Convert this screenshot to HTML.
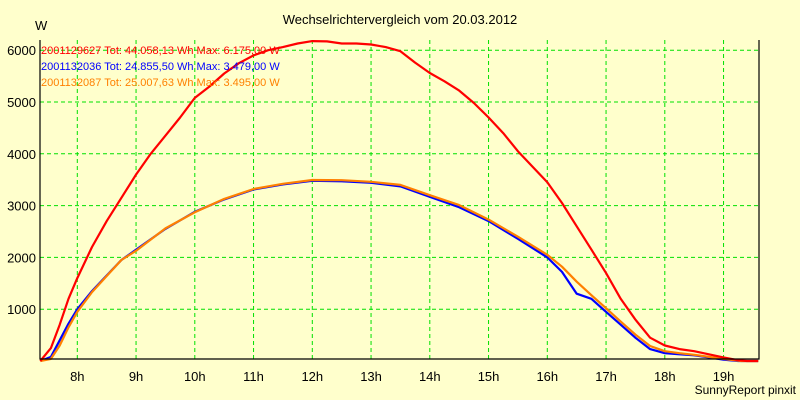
<!DOCTYPE html>
<html><head><meta charset="utf-8"><style>
body{margin:0;background:#FFFFCC;}
svg{display:block;font-family:"Liberation Sans",sans-serif;}
</style></head><body>
<svg width="800" height="400" id="chart">
<rect x="0" y="0" width="800" height="400" fill="#FFFFCC"/>
<text x="400" y="24" text-anchor="middle" font-size="13">Wechselrichtervergleich vom 20.03.2012</text>
<text x="35" y="30" font-size="13">W</text>
<g id="grid"></g><g id="series"></g><g id="axes"></g>
<text x="41" y="54" font-size="11" fill="#FF0000">2001129627 Tot: 44.058,13 Wh Max: 6.175,00 W</text>
<text x="41" y="70" font-size="11" fill="#0000FF">2001132036 Tot: 24.855,50 Wh Max: 3.479,00 W</text>
<text x="41" y="86" font-size="11" fill="#FF8000">2001132087 Tot: 25.007,63 Wh Max: 3.495,00 W</text>
<text x="796" y="394" text-anchor="end" font-size="12">SunnyReport pinxit</text>
</svg>
<script>
const yTicks=[1000,2000,3000,4000,5000,6000];
const xTicks=[8,9,10,11,12,13,14,15,16,17,18,19];
const redT=[7.37,7.55,7.7,7.85,8,8.25,8.5,8.75,9,9.25,9.5,9.75,10,10.25,10.5,10.75,11,11.25,11.5,11.75,12,12.25,12.5,12.75,13,13.25,13.5,13.75,14,14.25,14.5,14.75,15,15.25,15.5,15.75,16,16.25,16.5,16.75,17,17.25,17.5,17.75,18,18.25,18.5,18.75,19,19.25,19.4,19.59];
const redV=[0,250,700,1200,1600,2200,2700,3150,3600,4000,4350,4700,5080,5300,5550,5750,5900,6000,6060,6130,6175,6170,6130,6130,6110,6060,5980,5760,5560,5400,5220,4980,4700,4400,4050,3750,3450,3050,2600,2150,1700,1200,800,450,300,230,190,130,70,15,0,0];
const blueT=[7.37,7.55,7.7,7.85,8,8.25,8.5,8.75,9,9.5,10,10.5,11,11.5,12,12.5,13,13.5,14,14.5,15,15.5,16,16.25,16.5,16.75,17,17.25,17.5,17.75,18,18.25,18.5,18.75,19,19.25,19.59];
const blueV=[0,80,400,720,1000,1350,1650,1950,2150,2550,2880,3120,3310,3410,3479,3470,3440,3370,3170,2970,2700,2360,2000,1720,1300,1200,950,700,450,230,150,130,110,70,25,0,0];
const orangeT=[7.37,7.55,7.7,7.85,8,8.25,8.5,8.75,9,9.5,10,10.5,11,11.5,12,12.5,13,13.5,14,14.5,15,15.5,16,16.25,16.5,16.75,17,17.25,17.5,17.75,18,18.25,18.5,18.75,19,19.3,19.59];
const orangeV=[0,40,300,650,950,1330,1640,1950,2130,2560,2870,3130,3320,3420,3495,3490,3460,3400,3200,3010,2730,2400,2050,1820,1530,1270,1020,760,510,290,190,150,120,80,40,0,0];
const NS='http://www.w3.org/2000/svg';
const L=40,R=759,T=40,B=359;
const xS=h=>77.3+(h-8)*58.75;
const yS=v=>361-v*0.0518;
const g=document.getElementById('grid'),s=document.getElementById('series'),a=document.getElementById('axes');
function mk(p,tag,at){const e=document.createElementNS(NS,tag);for(const k in at)e.setAttribute(k,at[k]);p.appendChild(e);return e;}
yTicks.forEach(v=>{const y=yS(v);
 const l=mk(g,'line',{x1:L,x2:R,y1:y,y2:y,stroke:'#00E000','stroke-dasharray':'4,3'});
 
 
 const t=mk(a,'text',{x:36,y:y+5,'text-anchor':'end','font-size':13});t.textContent=v;
 
 
});
xTicks.forEach(h=>{const x=xS(h);
 const l=mk(g,'line',{x1:x,x2:x,y1:T,y2:B,stroke:'#00E000','stroke-dasharray':'4,3'});
 
 
 const t=mk(a,'text',{x:x,y:381,'text-anchor':'middle','font-size':13});t.textContent=h+'h';
 
 
});
const ax=mk(a,'polyline',{points:`${L},${T} ${L},${B} ${R},${B} ${R},${T}`,fill:'none',stroke:'#000','stroke-width':1.2});


[[blueT,blueV,'#0000FF','series-blue'],[orangeT,orangeV,'#FF8000','series-orange'],[redT,redV,'#FF0000','series-red']].forEach(([t,v,c,n])=>{
 const pl=mk(s,'polyline',{points:t.map((h,i)=>xS(h).toFixed(1)+','+yS(v[i]).toFixed(1)).join(' '),fill:'none',stroke:c,'stroke-width':2.2,'stroke-linejoin':'round'});
 
 
});
</script>
</body></html>
